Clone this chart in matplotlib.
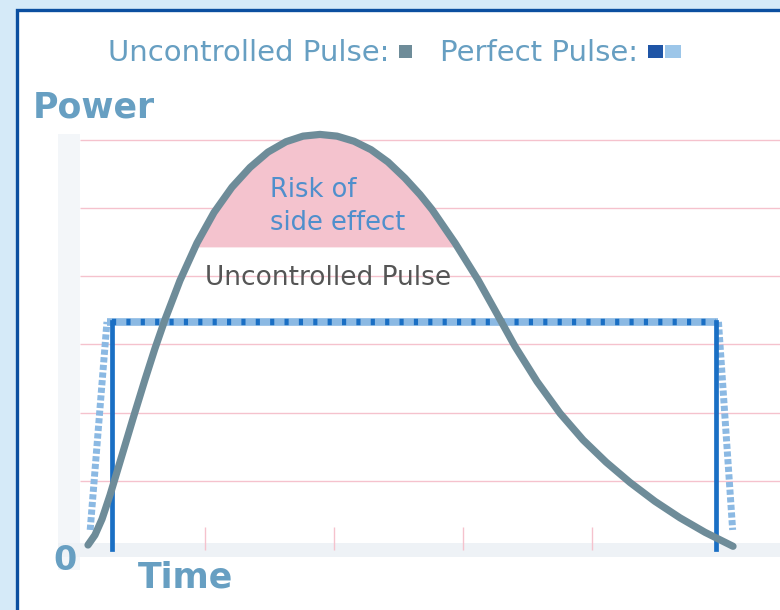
import matplotlib
matplotlib.use("Agg")
import matplotlib.pyplot as plt
from matplotlib.patches import Rectangle

# uncontrolled pulse (time units, power units)
curve_t = [0.093, 0.147, 0.202, 0.264, 0.341, 0.442, 0.535, 0.612, 0.690,
           0.806, 0.938, 1.070, 1.209, 1.349, 1.488, 1.628, 1.760, 1.891,
           2.023, 2.155, 2.287, 2.419, 2.550, 2.667, 2.760, 2.938, 3.116,
           3.264, 3.403, 3.574, 3.752, 3.930, 4.109, 4.295, 4.488, 4.682,
           4.876, 5.093]
curve_p = [0.059, 0.205, 0.440, 0.792, 1.276, 1.913, 2.485, 2.940, 3.365,
           3.937, 4.487, 4.935, 5.305, 5.595, 5.820, 5.972, 6.054, 6.079,
           6.054, 5.979, 5.855, 5.674, 5.438, 5.196, 4.977, 4.487, 3.947,
           3.446, 2.971, 2.455, 1.990, 1.601, 1.274, 0.975, 0.699, 0.457,
           0.245, 0.040]

# perfect pulse: ideal square edge (dark) and the ramped edge (light)
square_t = [0.28, 0.28, 4.96, 4.96]
square_p = [0.0, 3.33, 3.33, 0.0]
ramp_t = [0.11, 0.24, 4.98, 5.09]
ramp_p = [0.28, 3.33, 3.33, 0.28]

risk_level = 4.43          # power above which the side-effect zone starts
grid_levels = [1, 2, 3, 4, 5, 6]
time_ticks = [1, 2, 3, 4]

TXT = "#679fc2"
GRAY = "#6e8c99"
DARK = "#1a6fc4"
LIGHT = "#8bb9e3"
PINK = "#f4c3ce"
GRID = "#f5c2cd"

fig = plt.figure(figsize=(7.8, 6.1), dpi=100)
fig.patch.set_facecolor("#d5eaf8")
ax = fig.add_axes([0, 0, 1, 1])
ax.set_xlim(-0.589, 5.457)
ax.set_ylim(-0.894, 8.050)
ax.axis("off")

# white panel with the dark blue frame
ax.add_patch(Rectangle((17 / 780, -0.1), 1.2, 1.1 - 10 / 610,
                       transform=ax.transAxes, fc="white", ec="#0b4fa0",
                       lw=2.4, zorder=0, clip_on=False))

# faint axis bands
ax.add_patch(Rectangle((-0.14, -0.31), 0.17, 6.4, fc="#f3f6f9", ec="none", zorder=1))
ax.add_patch(Rectangle((-0.14, -0.12), 5.8, 0.21, fc="#eef2f6", ec="none", zorder=1))

ax.hlines(grid_levels, 0.03, 5.6, color=GRID, lw=1, zorder=2)
ax.vlines(time_ticks, -0.01, 0.32, color=GRID, lw=1, zorder=2)

# risk zone under the peak
ax.fill_between(curve_t, risk_level, curve_p,
                where=[p >= risk_level for p in curve_p], interpolate=True,
                color=PINK, lw=0, zorder=3)

# perfect pulse
ax.plot(ramp_t[:2], ramp_p[:2], color=LIGHT, lw=5, dashes=(0.75, 0.35), zorder=4)
ax.plot(ramp_t[2:], ramp_p[2:], color=LIGHT, lw=5, dashes=(0.75, 0.35), zorder=4)
ax.plot(ramp_t[1:3], ramp_p[1:3], color=LIGHT, lw=5.5, solid_capstyle="butt", zorder=4)
ax.plot(square_t[:2], square_p[:2], color=DARK, lw=3.4, zorder=4)
ax.plot(square_t[2:], square_p[2:], color=DARK, lw=3.4, zorder=4)
ax.plot(square_t[1:3], square_p[1:3], color=DARK, lw=4.6, dashes=(0.65, 1.6), zorder=4)

# uncontrolled pulse
ax.plot(curve_t, curve_p, color=GRAY, lw=5.2, solid_capstyle="round",
        solid_joinstyle="round", zorder=5)

# labels
ax.text(-0.333, 6.32, "Power", color=TXT, fontsize=25, fontweight="bold",
        ha="left", va="baseline")
ax.text(-0.178, -0.31, "0", color=TXT, fontsize=24, fontweight="bold",
        ha="left", va="baseline")
ax.text(0.48, -0.56, "Time", color=TXT, fontsize=25, fontweight="bold",
        ha="left", va="baseline")

ax.text(1.504, 5.16, "Risk of", color="#4f8fcc", fontsize=18.5,
        ha="left", va="baseline", zorder=6)
ax.text(1.504, 4.68, "side effect", color="#4f8fcc", fontsize=18.5,
        ha="left", va="baseline", zorder=6)
ax.text(1.0, 3.87, "Uncontrolled Pulse", color="#555555", fontsize=19,
        ha="left", va="baseline", zorder=6)

# legend line at the top
ax.text(0.248, 7.155, "Uncontrolled Pulse:", color=TXT, fontsize=21,
        ha="left", va="baseline")
ax.add_patch(Rectangle((2.504, 7.20), 0.10, 0.19, fc=GRAY, ec="none"))
ax.text(2.822, 7.155, "Perfect Pulse:", color=TXT, fontsize=21,
        ha="left", va="baseline")
ax.add_patch(Rectangle((4.434, 7.20), 0.116, 0.19, fc="#1f55a6", ec="none"))
ax.add_patch(Rectangle((4.566, 7.20), 0.124, 0.19, fc="#9cc6e9", ec="none"))

fig.savefig("out.png", dpi=100, facecolor=fig.get_facecolor())
